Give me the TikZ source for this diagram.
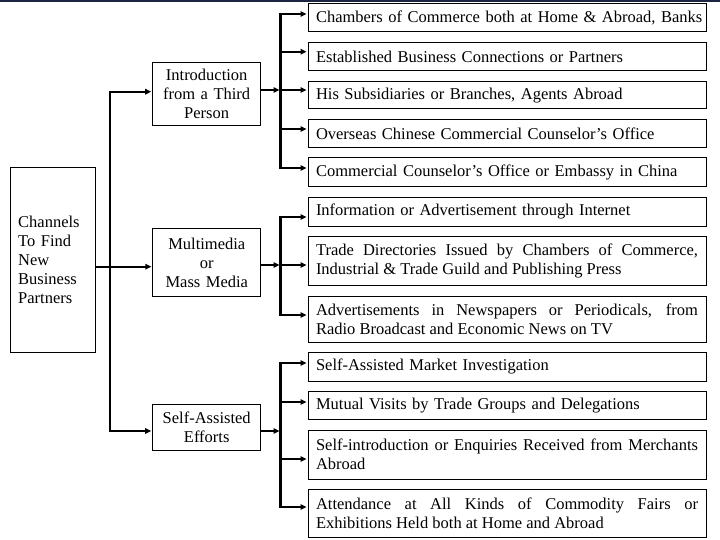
\documentclass[tikz,border=0pt]{standalone}
\usepackage{fontspec}
\setmainfont{Liberation Serif}
\usetikzlibrary{arrows.meta}
\definecolor{topnavy}{RGB}{28,38,66}
\begin{document}
\begin{tikzpicture}[x=1pt,y=-1pt,
  box/.style={draw=black, line width=1pt, inner ysep=2pt, font=\fontsize{16.5}{19}\selectfont},
  rbox/.style={box, inner xsep=8pt, minimum width=398pt, text width=382pt, align=left},
  jbox/.style={rbox, align=justify},
  mbox/.style={box, inner xsep=4pt, minimum width=108pt, text width=100pt, align=center},
  arr/.style={line width=1.8pt, -{Triangle[length=6pt,width=5.5pt]}, shorten >=1pt},
  trunk/.style={line width=2.8pt, line cap=rect},
  maintrunk/.style={line width=2.2pt, line cap=rect}]
\useasboundingbox (0,0) rectangle (720,540);
\fill[topnavy] (0,0) rectangle (720,2.2);

% left and middle boxes
\node[box, inner xsep=7.5pt, minimum width=85pt, text width=70pt, minimum height=184pt, align=left] (L) at (53.2,260)
  {Channels\\To Find\\New\\Business\\Partners};
\node[mbox, minimum height=63.3pt] (I) at (206.7,94.35) {Introduction\\from a Third\\Person};
\node[mbox, minimum height=67pt] (M) at (206.8,262.5) {Multimedia\\or\\Mass Media};
\node[mbox, minimum height=46pt] (S) at (206.7,427) {Self-Assisted\\Efforts};

% right boxes
\node[rbox, minimum height=28pt] (b1) at (507,18) {\mbox{Chambers of Commerce both at Home \& Abroad, Banks}};
\node[rbox, minimum height=28pt] (b2) at (507,56.7) {Established Business Connections or Partners};
\node[rbox, minimum height=27.3pt] (b3) at (507,95.3) {His Subsidiaries or Branches, Agents Abroad};
\node[rbox, minimum height=28.5pt] (b4) at (507,133.7) {Overseas Chinese Commercial Counselor’s Office};
\node[rbox, minimum height=29pt] (b5) at (507,172.5) {Commercial Counselor’s Office or Embassy in China};
\node[rbox, minimum height=28.7pt] (b6) at (507,211.7) {Information or Advertisement through Internet};
\node[jbox, minimum height=48.8pt] (b7) at (507,261.1) {Trade Directories Issued by Chambers of Commerce,\linebreak Industrial \& Trade Guild and Publishing Press};
\node[jbox, minimum height=46pt] (b8) at (507,319) {Advertisements in Newspapers or Periodicals, from\linebreak Radio Broadcast and Economic News on TV};
\node[rbox, minimum height=29pt] (b9) at (507,366.5) {Self-Assisted Market Investigation};
\node[rbox, minimum height=28.3pt] (b10) at (507,405.8) {Mutual Visits by Trade Groups and Delegations};
\node[jbox, minimum height=49pt] (b11) at (507,454.5) {Self-introduction or Enquiries Received from Merchants\linebreak Abroad};
\node[jbox, minimum height=48pt] (b12) at (507,513) {Attendance at All Kinds of Commodity Fairs or\linebreak Exhibitions Held both at Home and Abroad};

% main trunk
\coordinate (tI) at (110,91.7);
\coordinate (tM) at (110,266.7);
\coordinate (tS) at (110,431);
\draw[maintrunk] (tI) -- (tS);
\draw[arr] (tI) -- (I.west |- tI);
\draw[arr] (L.east |- tM) -- (M.west |- tM);
\draw[arr] (tS) -- (S.west |- tS);

% group 1
\coordinate (p1) at (280.5,14);
\coordinate (p2) at (280.5,51.7);
\coordinate (p3) at (280.5,90);
\coordinate (p4) at (280.5,129);
\coordinate (p5) at (280.5,168);
\draw[trunk] (p1) -- (p5);
\draw[arr] (I.east |- p3) -- (p3);
\draw[arr] (p1) -- (b1.west |- p1);
\draw[arr] (p2) -- (b2.west |- p2);
\draw[arr] (p3) -- (b3.west |- p3);
\draw[arr] (p4) -- (b4.west |- p4);
\draw[arr] (p5) -- (b5.west |- p5);

% group 2
\coordinate (p6) at (280.5,217);
\coordinate (p7) at (280.5,265);
\coordinate (p8) at (280.5,315);
\draw[trunk] (p6) -- (p8);
\draw[arr] (M.east |- p7) -- (p7);
\draw[arr] (p6) -- (b6.west |- p6);
\draw[arr] (p7) -- (b7.west |- p7);
\draw[arr] (p8) -- (b8.west |- p8);

% group 3
\coordinate (p9) at (280.5,363);
\coordinate (p10) at (280.5,402);
\coordinate (pS) at (280.5,431);
\coordinate (p11) at (280.5,459);
\coordinate (p12) at (280.5,507);
\draw[trunk] (p9) -- (p12);
\draw[arr] (S.east |- pS) -- (pS);
\draw[arr] (p9) -- (b9.west |- p9);
\draw[arr] (p10) -- (b10.west |- p10);
\draw[arr] (p11) -- (b11.west |- p11);
\draw[arr] (p12) -- (b12.west |- p12);
\end{tikzpicture}
\end{document}
